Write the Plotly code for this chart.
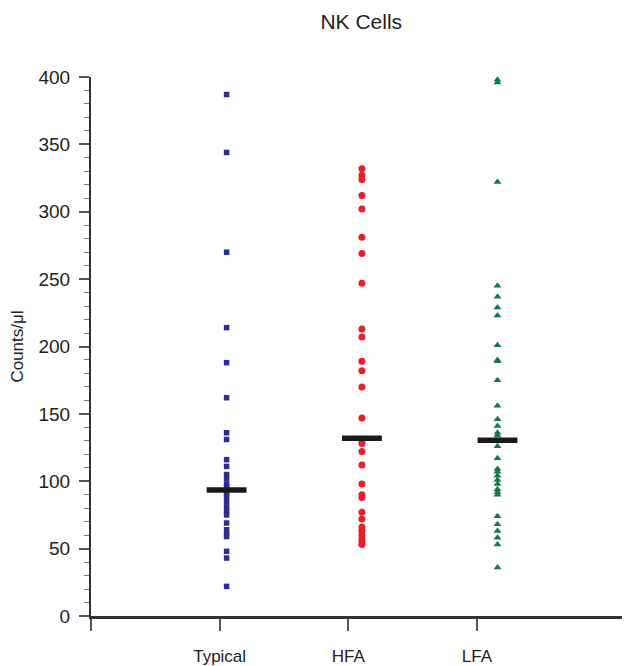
import plotly.graph_objects as go

categories = ["Typical", "HFA", "LFA"]

typical = [387, 344, 270, 214, 188, 162, 136, 131, 116, 111, 105, 102, 98, 96,
           93, 91, 88, 85, 81, 78, 75, 69, 64, 61, 59, 48, 43, 22]
hfa = [332, 327, 324, 312, 302, 281, 269, 247, 213, 207, 189, 182, 170, 147,
       130, 128, 122, 112, 98, 90, 88, 77, 72, 66, 63, 60, 57, 55, 53]
lfa = [398, 396, 322, 245, 237, 229, 223, 201, 190, 189, 175, 156, 146, 141,
       136, 134, 126, 117, 109, 107, 104, 101, 98, 94, 92, 90, 74, 68, 63, 58,
       53, 36]
medians = [93.5, 132, 130.5]

y_ticks = [0, 50, 100, 150, 200, 250, 300, 350, 400]

series = [typical, hfa, lfa]
colors = ["#2B2F8F", "#E5202B", "#17774A"]
symbols = ["square", "circle", "triangle-up"]
sizes = [5.5, 7, 7]
offsets = [0.054, 0.106, 0.16]

fig = go.Figure()
for i, (name, vals) in enumerate(zip(categories, series)):
    xpos = i + 1 + offsets[i]
    fig.add_trace(go.Scatter(
        x=[xpos] * len(vals), y=vals, mode="markers", name=name,
        marker=dict(symbol=symbols[i], size=sizes[i], color=colors[i],
                    line=dict(width=0)),
        cliponaxis=False, showlegend=False,
    ))
for i, m in enumerate(medians):
    xpos = i + 1 + offsets[i]
    fig.add_trace(go.Scatter(
        x=[xpos - 0.155, xpos + 0.155], y=[m, m], mode="lines",
        line=dict(color="#1a1a1a", width=5.5), showlegend=False,
        cliponaxis=False,
    ))

fig.update_layout(
    width=622, height=658,
    margin=dict(l=83, r=0, t=69, b=44),
    paper_bgcolor="white", plot_bgcolor="white",
    font=dict(family="Liberation Sans, Arial, sans-serif", color="#222"),
    title=dict(text="NK Cells", x=0.568, xanchor="center", y=0.979,
               yanchor="middle", font=dict(size=21, color="#222")),
    xaxis=dict(
        range=[0, 4.19], tickvals=[0, 1, 2, 3],
        ticktext=["", "Typical", "HFA", "LFA"],
        showgrid=False, zeroline=False, showline=True,
        linecolor="#333", linewidth=2.5,
        ticks="outside", ticklen=12, tickwidth=1.5, tickcolor="#555",
        ticklabelstandoff=11,
        tickfont=dict(size=17, color="#222"),
    ),
    yaxis=dict(
        range=[0, 400], tickvals=y_ticks,
        showgrid=False, zeroline=False, showline=True,
        linecolor="#333", linewidth=2,
        ticks="outside", ticklen=10, tickwidth=1.5, tickcolor="#555",
        ticklabelstandoff=5,
        tickfont=dict(size=19, color="#222"),
        minor=dict(dtick=10, ticks="outside", ticklen=5, tickcolor="#777",
                   tickwidth=1),
        title=dict(text="Counts/μl", font=dict(size=17, color="#222"),
                   standoff=11),
    ),
)

fig.write_html("out.html")
